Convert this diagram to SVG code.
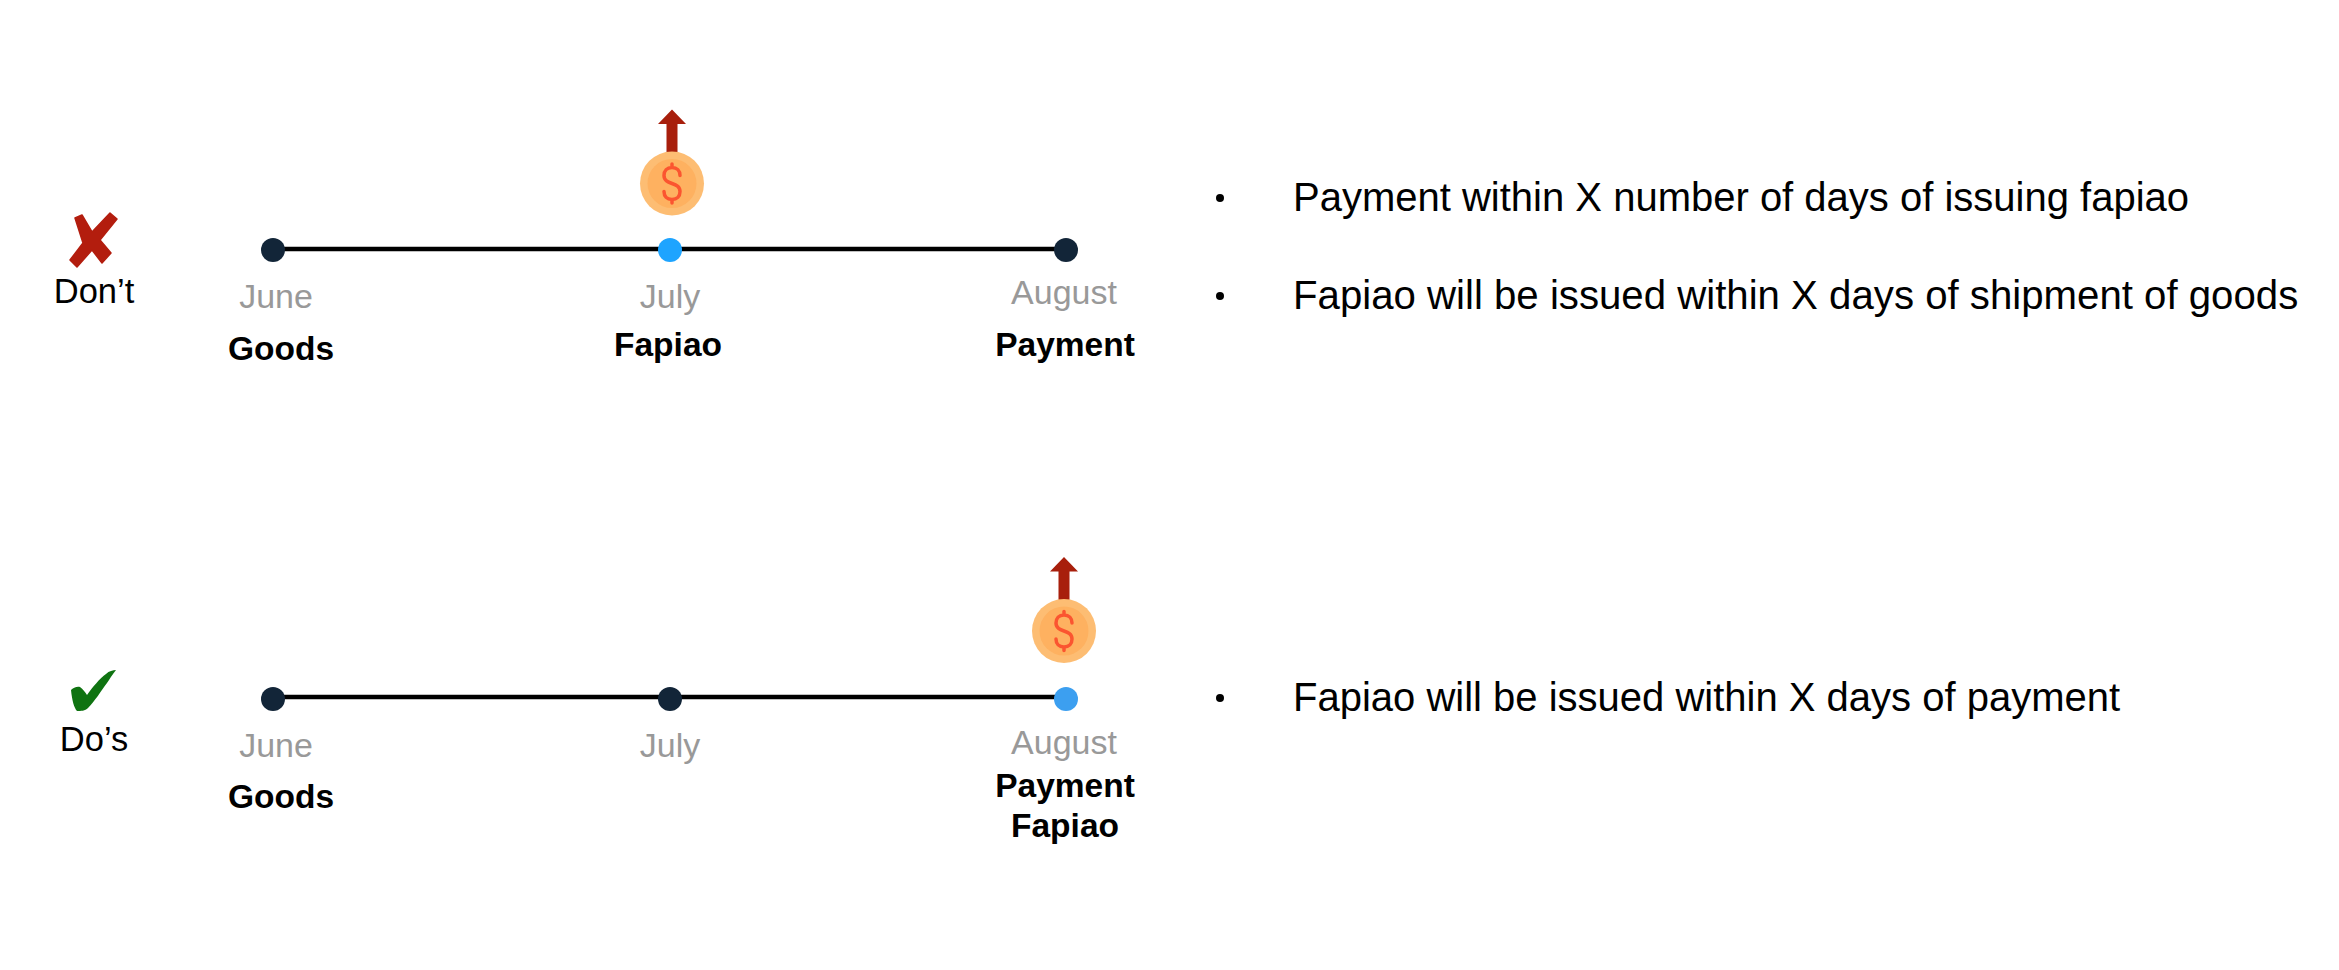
<svg xmlns="http://www.w3.org/2000/svg" width="2339" height="970" viewBox="0 0 2339 970">
<style>
text{font-family:"Liberation Sans",Arial,sans-serif}
.m{font-size:34px;fill:#999;text-anchor:middle}
.b{font-size:33.500px;font-weight:700;fill:#000;text-anchor:middle}
.l{font-size:34.500px;fill:#000;text-anchor:middle}
.t{font-size:40px;fill:#000}
.line{stroke:#000;stroke-width:4.500;fill:none}
.dark{fill:#122538}
</style>
<defs>
<g id="coin">
<path d="M-5.500 -30V-59.500H-14L0 -74L14 -59.500H5.500V-30Z" fill="#a81f0c"/>
<circle r="32" fill="#fdbd73"/>
<circle r="24.500" fill="#feb160"/>
<path d="M8 -8C8 -13 5 -16 0 -16C-5 -16 -8 -13 -8 -8C-8 -3 -4 -1.500 0 0C4 1.500 8 3 8 8C8 13 5 16 0 16C-5 16 -8 13 -8 8M0 -16V-19.500M0 16V19.500" fill="none" stroke="#fb5530" stroke-width="3.500" stroke-linecap="round"/>
</g>
</defs>
<g id="connectors">
<path class="line" d="M273 249H1066"/>
<path class="line" d="M273 697H1066"/>
</g>
<g id="dont">
<path d="M75 218L82 215L92 232L110 213L117 219L100 240L111 253L102 263L92 250L77 267L70 260L83 243Z" fill="#b31d0e" stroke="#b31d0e" stroke-width="1.500" stroke-linejoin="round"/>
<text class="l" x="94" y="303">Don’t</text>
</g>
<g id="june1"><circle class="dark" cx="273" cy="250" r="12"/>
<text class="m" x="276" y="308">June</text><text class="b" x="281" y="360">Goods</text></g>
<g id="july1"><circle cx="670" cy="250" r="12" fill="#1ea4ff"/>
<text class="m" x="670" y="308">July</text><text class="b" x="668" y="356">Fapiao</text>
<use href="#coin" x="672" y="183.500"/></g>
<g id="august1"><circle class="dark" cx="1066" cy="250" r="12"/>
<text class="m" x="1064" y="304">August</text><text class="b" x="1065" y="356">Payment</text></g>
<g id="notes1">
<circle cx="1220" cy="198" r="4"/><text class="t" x="1293" y="211">Payment within X number of days of issuing fapiao</text>
<circle cx="1220" cy="296" r="4"/><text class="t" x="1293" y="309" style="font-size:40.200px">Fapiao will be issued within X days of shipment of goods</text>
</g>
<g id="dos">
<path d="M71 690C73 688 77 686 80 687C83 689 85 692 87 695C92 688 100 678 106 674C109 671 113 670 116 670C112 675 109 680 107 683C101 691 95 701 88 708C85 711 81 711 77 711C74 708 72 700 71 690Z" fill="#0f7311"/>
<text class="l" x="94" y="751">Do’s</text>
</g>
<g id="june2"><circle class="dark" cx="273" cy="699" r="12"/>
<text class="m" x="276" y="757">June</text><text class="b" x="281" y="808">Goods</text></g>
<g id="july2"><circle class="dark" cx="670" cy="699" r="12"/>
<text class="m" x="670" y="757">July</text></g>
<g id="august2"><circle cx="1066" cy="699" r="12" fill="#3c9ff0"/>
<text class="m" x="1064" y="754">August</text><text class="b" x="1065" y="797">Payment</text><text class="b" x="1065" y="837">Fapiao</text>
<use href="#coin" x="1064" y="631"/></g>
<g id="notes2">
<circle cx="1220" cy="698" r="4"/><text class="t" x="1293" y="711">Fapiao will be issued within X days of payment</text>
</g>
</svg>
